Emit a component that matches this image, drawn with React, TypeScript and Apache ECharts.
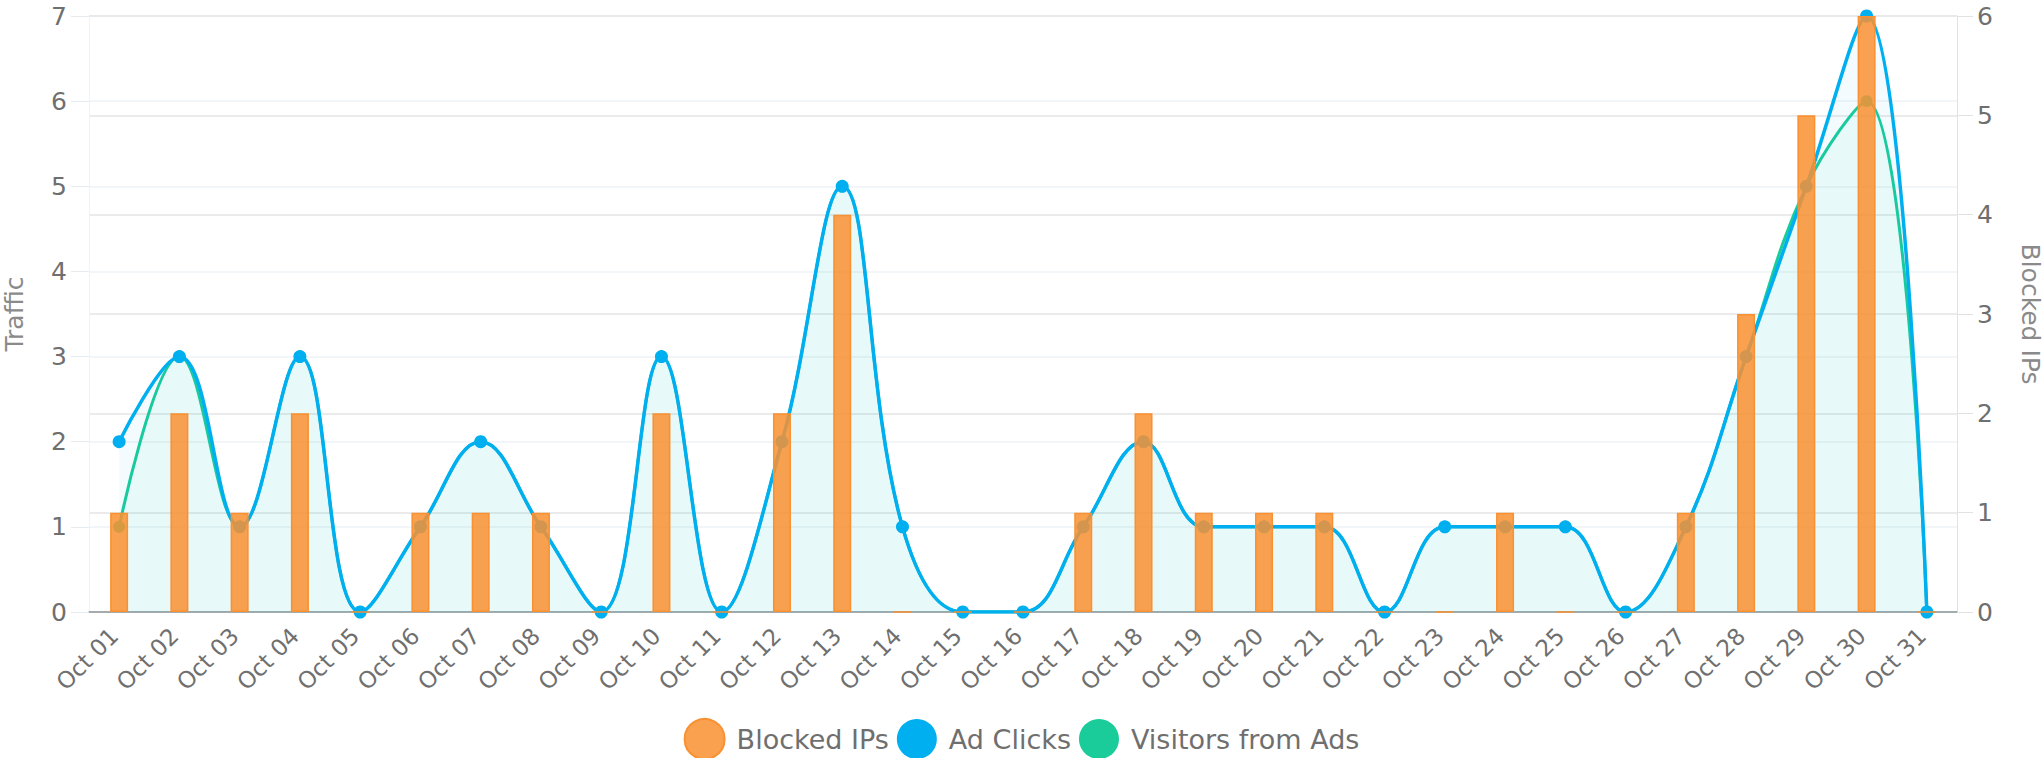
import React, { useEffect, useRef } from "react";
import * as echarts from "echarts";

const categories = [
  "Oct 01", "Oct 02", "Oct 03", "Oct 04", "Oct 05", "Oct 06", "Oct 07", "Oct 08",
  "Oct 09", "Oct 10", "Oct 11", "Oct 12", "Oct 13", "Oct 14", "Oct 15", "Oct 16",
  "Oct 17", "Oct 18", "Oct 19", "Oct 20", "Oct 21", "Oct 22", "Oct 23", "Oct 24",
  "Oct 25", "Oct 26", "Oct 27", "Oct 28", "Oct 29", "Oct 30", "Oct 31",
];

const blockedIPs = [1, 2, 1, 2, 0, 1, 1, 1, 0, 2, 0, 2, 4, 0, 0, 0, 1, 2, 1, 1, 1, 0, 0, 1, 0, 0, 1, 3, 5, 6, 0];
const adClicks = [2, 3, 1, 3, 0, 1, 2, 1, 0, 3, 0, 2, 5, 1, 0, 0, 1, 2, 1, 1, 1, 0, 1, 1, 1, 0, 1, 3, 5, 7, 0];
const visitorsFromAds = [1, 3, 1, 3, 0, 1, 2, 1, 0, 3, 0, 2, 5, 1, 0, 0, 1, 2, 1, 1, 1, 0, 1, 1, 1, 0, 1, 3, 5, 6, 0];

const FONT = "DejaVu Sans";
const ORANGE = "rgba(249,144,49,0.85)";
const ORANGE_BORDER = "rgb(249,144,49)";
const BLUE = "#00AFF0";
const GREEN = "#1ACC9A";
const LABEL = "#6f6f6f";
const TITLE = "#8a8a8a";

export default function App() {
  const ref = useRef<HTMLDivElement>(null);

  useEffect(() => {
    if (!ref.current) return;
    const chart = echarts.init(ref.current, null, { renderer: "svg" });
    chart.setOption({
      animation: false,
      textStyle: { fontFamily: FONT },
      grid: {
        left: 89,
        right: 86,
        top: 16,
        bottom: 146,
        containLabel: false,
        outerBoundsMode: "none",
      },
      legend: {
        top: 718,
        left: "center",
        padding: 0,
        icon: "circle",
        itemWidth: 40,
        itemHeight: 40,
        itemGap: 8,
        data: ["Blocked IPs", "Ad Clicks", "Visitors from Ads"],
        textStyle: { fontFamily: FONT, fontSize: 27, color: LABEL, padding: [0, 0, 0, 7] },
      },
      xAxis: {
        type: "category",
        data: categories,
        boundaryGap: true,
        axisLine: { show: true, lineStyle: { color: "#8d979c", width: 1.5 } },
        axisTick: { show: false },
        splitLine: { show: false },
        axisLabel: {
          rotate: 45,
          interval: 0,
          margin: 15,
          padding: [0, 7, 0, 0],
          fontFamily: FONT,
          fontSize: 23,
          color: LABEL,
        },
      },
      yAxis: [
        {
          type: "value",
          min: 0,
          max: 7,
          interval: 1,
          name: "Traffic",
          nameLocation: "middle",
          nameGap: 62,
          nameMoveOverlap: false,
          nameRotate: 90,
          nameTextStyle: { fontFamily: FONT, fontSize: 25, lineHeight: 25, color: TITLE },
          axisLine: { show: true, lineStyle: { color: "#eef3f6" } },
          axisTick: { show: true, length: 18, lineStyle: { color: "#e4eaee" } },
          splitLine: { show: true, lineStyle: { color: "#eef3f6", width: 1.5 } },
          axisLabel: { margin: 22, fontFamily: FONT, fontSize: 25, color: LABEL },
        },
        {
          type: "value",
          position: "right",
          min: 0,
          max: 6,
          interval: 1,
          name: "Blocked IPs",
          nameLocation: "middle",
          nameGap: 61,
          nameMoveOverlap: false,
          nameRotate: -90,
          nameTextStyle: { fontFamily: FONT, fontSize: 25, lineHeight: 24, color: TITLE },
          axisLine: { show: true, lineStyle: { color: "#e2e2e2" } },
          axisTick: { show: true, length: 16, lineStyle: { color: "#e2e2e2" } },
          splitLine: { show: true, lineStyle: { color: "#e4e4e4", width: 1.5 } },
          axisLabel: { margin: 20, fontFamily: FONT, fontSize: 25, color: LABEL },
        },
      ],
      series: [
        {
          name: "Ad Clicks",
          type: "line",
          yAxisIndex: 0,
          data: adClicks,
          smooth: 0.4,
          symbol: "circle",
          symbolSize: 13,
          z: 2,
          lineStyle: { color: BLUE, width: 3.5 },
          itemStyle: { color: BLUE },
          areaStyle: { color: "rgba(0,175,240,0.065)" },
        },
        {
          name: "Visitors from Ads",
          type: "line",
          yAxisIndex: 0,
          data: visitorsFromAds,
          smooth: 0.4,
          symbol: "circle",
          symbolSize: 12,
          z: 1,
          lineStyle: { color: GREEN, width: 3 },
          itemStyle: { color: GREEN },
          areaStyle: { color: "rgba(26,204,154,0.065)" },
        },
        {
          name: "Blocked IPs",
          type: "bar",
          yAxisIndex: 1,
          data: blockedIPs,
          barWidth: 18,
          z: 3,
          itemStyle: { color: ORANGE, borderColor: ORANGE_BORDER, borderWidth: 1.5 },
        },
      ],
    });
    return () => chart.dispose();
  }, []);

  return (
    <div
      ref={ref}
      style={{ position: "fixed", left: 0, top: 0, width: 2043, height: 758, background: "#fff" }}
    />
  );
}
